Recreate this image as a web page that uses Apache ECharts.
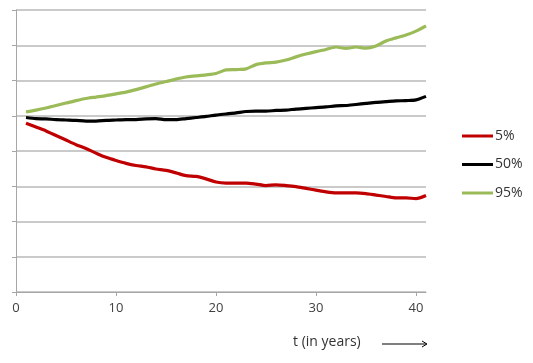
<!DOCTYPE html>
<html>
<head>
<meta charset="utf-8">
<script src="https://cdn.jsdelivr.net/npm/echarts@6/dist/echarts.min.js"></script>
<style>html,body{margin:0;padding:0;background:#fff}#c{width:533px;height:363px}</style>
</head>
<body>
<div id="c"></div>
<script>
const years = [1,2,3,4,5,6,7,8,9,10,11,12,13,14,15,16,17,18,19,20,21,22,23,24,25,26,27,28,29,30,31,32,33,34,35,36,37,38,39,40,41];
const p5 = [4.79,4.68,4.57,4.44,4.31,4.18,4.07,3.94,3.82,3.73,3.65,3.59,3.55,3.49,3.45,3.38,3.30,3.28,3.21,3.12,3.09,3.09,3.09,3.06,3.02,3.04,3.02,2.99,2.94,2.89,2.84,2.81,2.81,2.81,2.79,2.75,2.71,2.67,2.67,2.65,2.74];
const p50 = [4.95,4.92,4.91,4.89,4.88,4.87,4.85,4.85,4.87,4.88,4.89,4.89,4.91,4.92,4.89,4.89,4.92,4.95,4.98,5.02,5.05,5.08,5.12,5.13,5.13,5.15,5.16,5.19,5.21,5.23,5.25,5.28,5.29,5.32,5.35,5.38,5.40,5.42,5.43,5.45,5.55];
const p95 = [5.11,5.16,5.22,5.29,5.36,5.43,5.49,5.53,5.57,5.62,5.67,5.74,5.82,5.90,5.97,6.04,6.10,6.13,6.16,6.20,6.30,6.31,6.33,6.45,6.50,6.52,6.58,6.67,6.75,6.82,6.88,6.95,6.91,6.95,6.92,6.98,7.12,7.21,7.29,7.40,7.55];
const seriesNames = ['5%','50%','95%'];
const xTicks = [0,10,20,30,40];
const xLabel = 't (in years)';

const colors = ['#c00000','#000000','#9bbb59'];
const chart = echarts.init(document.getElementById('c'), null, {renderer:'canvas'});
const pairs = arr => years.map((t,i)=>[t,arr[i]]);
const mk = (name, arr, color) => ({
  name, type:'line', data:pairs(arr), showSymbol:false, smooth:0.25,
  lineStyle:{color, width:3.2}, itemStyle:{color}, z: 3
});
chart.setOption({
  animation:false,
  textStyle:{fontFamily:'Open Sans'},
  grid:{left:16, right:107, top:10, bottom:71, containLabel:false},
  xAxis:{
    type:'value', min:0, max:41,
    axisLine:{show:true, lineStyle:{color:'#a6a6a6', width:1}},
    axisTick:{show:true, length:4, lineStyle:{color:'#a6a6a6'}, customValues:xTicks},
    axisLabel:{color:'#404040', fontSize:13, margin:10, customValues:xTicks, fontFamily:'Open Sans'},
    splitLine:{show:false}
  },
  yAxis:{
    type:'value', min:0, max:8, interval:1,
    axisLine:{show:true, lineStyle:{color:'#a6a6a6', width:1}},
    axisTick:{show:true, inside:false, length:4, lineStyle:{color:'#a6a6a6'}},
    axisLabel:{show:false},
    splitLine:{show:true, lineStyle:{color:'#b8b8b8', width:1.5}}
  },
  legend:{
    orient:'vertical', left:457, top:124, itemWidth:31, itemHeight:3, itemGap:14.5,
    icon:'rect',
    textStyle:{fontSize:14, color:'#333', fontFamily:'Open Sans', lineHeight:14, padding:[0,0,0,-3]},
    data:seriesNames
  },
  series:[mk(seriesNames[0],p5,colors[0]), mk(seriesNames[1],p50,colors[1]), mk(seriesNames[2],p95,colors[2])],
  graphic:[
    {type:'text', left:293, top:335, style:{text:xLabel, fontSize:14, fill:'#333', fontFamily:'Open Sans'}},
    {type:'line', shape:{x1:382, y1:344, x2:426, y2:344}, style:{stroke:'#000', lineWidth:1}},
    {type:'polyline', shape:{points:[[422,341],[427,344],[422,347]]}, style:{stroke:'#000', lineWidth:1, fill:null}}
  ]
});
</script>
</body>
</html>
